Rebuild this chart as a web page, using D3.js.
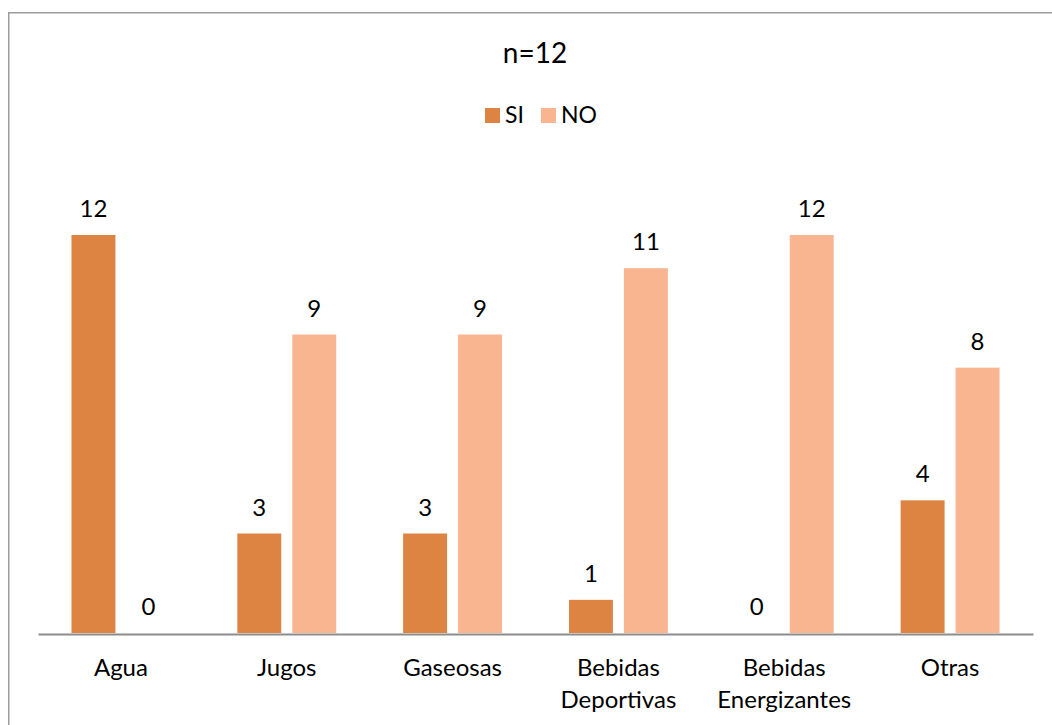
<!DOCTYPE html>
<html>
<head>
<meta charset="utf-8">
<script src="https://cdn.jsdelivr.net/npm/d3@7"></script>
<style>
  html, body { margin: 0; padding: 0; background: #ffffff; }
  svg { display: block; font-family: Lato, "Open Sans", sans-serif; }
</style>
</head>
<body>
<svg id="chart" width="1052" height="725"></svg>
<script>
// Beverage consumption survey, n = 12
const title = "n=12";
const categories = ["Agua", "Jugos", "Gaseosas", "Bebidas Deportivas", "Bebidas Energizantes", "Otras"];
const categoryLines = [["Agua"], ["Jugos"], ["Gaseosas"], ["Bebidas", "Deportivas"], ["Bebidas", "Energizantes"], ["Otras"]];
const seriesNames = ["SI", "NO"];
const siValues = [12, 3, 3, 1, 0, 4];
const noValues = [0, 9, 9, 11, 12, 8];
const seriesColors = ["#de8443", "#f9b590"];

const svg = d3.select("#chart");
const W = 1052, H = 725;

// outer frame
svg.append("rect")
  .attr("x", 8.75).attr("y", 12.75)
  .attr("width", W + 20).attr("height", H + 20)
  .attr("fill", "#ffffff")
  .attr("stroke", "#9c9c9c").attr("stroke-width", 1.5);

const plot = { left: 38, right: 1033, base: 633, top: 235 };

const x0 = d3.scaleBand()
  .domain(categories)
  .range([plot.left, plot.right])
  .paddingInner(0.4036)
  .paddingOuter(0.2018);

const x1 = d3.scaleBand()
  .domain(seriesNames)
  .range([0, x0.bandwidth()])
  .paddingInner(0.2)
  .paddingOuter(0);

const y = d3.scaleLinear().domain([0, 12]).range([plot.base, plot.top]);

const rows = categories.map((c, i) => ({
  category: c,
  values: [
    { series: "SI", value: siValues[i] },
    { series: "NO", value: noValues[i] }
  ]
}));
const color = d3.scaleOrdinal().domain(seriesNames).range(seriesColors);

const groups = svg.append("g").selectAll("g")
  .data(rows).join("g")
  .attr("transform", d => `translate(${x0(d.category)},0)`);

groups.selectAll("rect")
  .data(d => d.values).join("rect")
  .attr("x", d => x1(d.series))
  .attr("width", x1.bandwidth())
  .attr("y", d => y(d.value))
  .attr("height", d => y(0) - y(d.value))
  .attr("fill", d => color(d.series));

groups.selectAll("text")
  .data(d => d.values).join("text")
  .attr("x", d => x1(d.series) + x1.bandwidth() / 2)
  .attr("y", d => y(d.value) - 18)
  .attr("text-anchor", "middle")
  .attr("font-size", 24)
  .attr("fill", "#000000")
  .text(d => d.value);

// category axis
const xAxis = svg.append("g")
  .attr("transform", `translate(0,${plot.base + 1})`)
  .call(d3.axisBottom(x0).tickSize(0).tickFormat(""));
xAxis.select(".domain").attr("stroke", "#8c8c8c").attr("stroke-width", 2);

const labelG = svg.append("g");
categories.forEach((c, i) => {
  const t = labelG.append("text")
    .attr("x", x0(c) + x0.bandwidth() / 2)
    .attr("y", 676)
    .attr("text-anchor", "middle")
    .attr("font-size", 24)
    .attr("fill", "#000000");
  categoryLines[i].forEach((line, j) => {
    t.append("tspan")
      .attr("x", x0(c) + x0.bandwidth() / 2)
      .attr("y", 676 + j * 32)
      .text(line);
  });
});

// title
svg.append("text")
  .attr("x", 535).attr("y", 63)
  .attr("text-anchor", "middle")
  .attr("font-size", 28)
  .attr("fill", "#000000")
  .text(title);

// legend
const legendPos = [485, 541];
const legend = svg.append("g").selectAll("g")
  .data(seriesNames).join("g")
  .attr("transform", (d, i) => `translate(${legendPos[i]},108)`);
legend.append("rect")
  .attr("width", 15).attr("height", 15)
  .attr("fill", d => color(d));
legend.append("text")
  .attr("x", 20).attr("y", 14.5)
  .attr("font-size", 23)
  .attr("fill", "#000000")
  .text(d => d);
</script>
</body>
</html>
